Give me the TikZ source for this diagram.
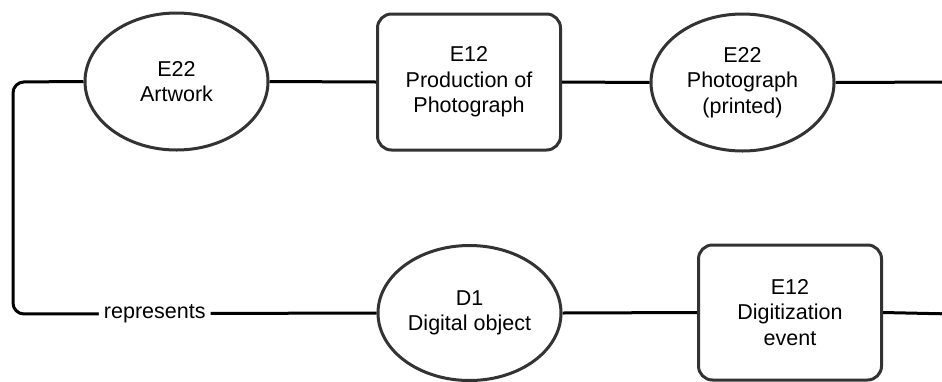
\documentclass[tikz,border=0pt]{standalone}
\usepackage{fontspec}
\setmainfont{Liberation Sans}
\usetikzlibrary{shapes.geometric}
\begin{document}
\begin{tikzpicture}[x=1pt,y=-1pt,
  lbl/.style={font=\fontsize{21.5}{25.5}\selectfont},
  thing/.style={ellipse,draw=black!80,line width=3pt,fill=white,
    minimum width=183pt,minimum height=137pt,inner sep=0pt,align=center,lbl},
  event/.style={rectangle,rounded corners=14pt,draw=black!80,line width=3pt,fill=white,
    minimum width=183pt,minimum height=136pt,inner sep=0pt,align=center,lbl},
  link/.style={draw=black,line width=3pt,rounded corners=11pt},
  linklabel/.style={fill=white,inner sep=5pt,lbl}]
  \useasboundingbox (0,0) rectangle (942,381);
  \clip (0,0) rectangle (942,381);

  % top row
  \node[thing] (art)   at (176.5,81.5) {E22\\Artwork};
  \node[event] (prod)  at (469,82)     {E12\\Production of\\Photograph};
  \node[thing] (photo) at (742.5,82.5) {E22\\Photograph\\(printed)};

  % bottom row
  \node[thing,minimum height=135pt] (dobj)  at (469.5,313) {D1\\Digital object};
  \node[event,minimum height=135pt] (digev) at (790,312.5) {E12\\Digitization\\event};

  % corner points of the loops
  \coordinate (lt) at (13,82);
  \coordinate (lb) at (13,314);
  \coordinate (rt) at (952,82);
  \coordinate (rb) at (952,314);

  \draw[link] (art.east) -- (prod.west);
  \draw[link] (prod.east) -- (photo.west);
  \draw[link] (dobj.east) -- (digev.west);
  \draw[link] (art.west) -- (lt) -- (lb) -- node[linklabel,pos=0.39] {represents} (dobj.west);
  \draw[link] (photo.east) -- (rt) -- (rb) -- (digev.east);
\end{tikzpicture}
\end{document}
